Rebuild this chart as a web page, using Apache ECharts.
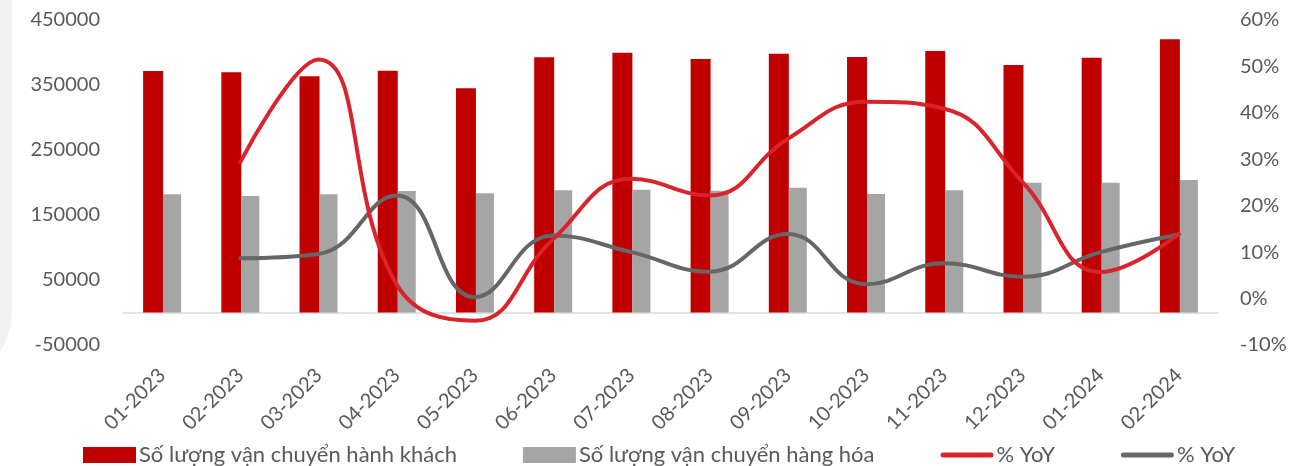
<!DOCTYPE html>
<html>
<head>
<meta charset="utf-8">
<style>
  html, body { margin: 0; padding: 0; background: #ffffff; }
  #chart { width: 1302px; height: 466px; }
</style>
<script src="https://cdn.jsdelivr.net/npm/echarts@6/dist/echarts.min.js"></script>
</head>
<body>
<div id="chart"></div>
<script>
// Monthly categories
const months = ['01-2023', '02-2023', '03-2023', '04-2023', '05-2023', '06-2023', '07-2023',
  '08-2023', '09-2023', '10-2023', '11-2023', '12-2023', '01-2024', '02-2024'];

// Passenger transport volume (left axis)
const passengers = [371500, 369500, 363400, 372000, 344900, 392600, 399700,
  390000, 398200, 393100, 402300, 380800, 392000, 420300];

// Freight transport volume (left axis)
const freight = [181800, 179200, 181800, 186900, 183400, 188000, 189000,
  187500, 192000, 182300, 188000, 199700, 199700, 203800];

// Year-over-year growth, % (right axis); January 2023 has no value
const passengersYoY = [null, 29.4, 51.5, 3.0, -4.8, 12.8, 25.8,
  22.2, 34.4, 42.4, 40.9, 25.1, 5.7, 13.9];
const freightYoY = [null, 8.7, 9.6, 22.2, 0.3, 13.6, 10.0,
  5.8, 13.9, 3.1, 7.6, 4.7, 10.0, 13.8];

// Axis ticks
const leftTicks = { min: -50000, max: 450000, interval: 100000 };
const rightTicks = { min: -10, max: 60, interval: 10 };

const FONT = 'Lato';
const TEXT = '#595959';
const RED = '#c00000';
const GREY = '#a5a5a5';
const RED_LINE = '#d9232d';
const GREY_LINE = '#666666';

// Thick line swatch with rounded ends for the legend
const LINE_ICON = 'path://M2.5,0 L50.5,0 A2.5,2.5 0 0 1 50.5,5 L2.5,5 A2.5,2.5 0 0 1 2.5,0 Z';

const chart = echarts.init(document.getElementById('chart'), null, { renderer: 'canvas' });

chart.setOption({
  animation: false,
  backgroundColor: '#ffffff',
  textStyle: { fontFamily: FONT, color: TEXT },
  graphic: [{
    type: 'rect',
    silent: true,
    z: -10,
    shape: { x: -80, y: -40, width: 92, height: 430, r: [0, 0, 80, 0] },
    style: { fill: '#f2f2f2' }
  }],
  grid: { left: 123, right: 84, top: 20, bottom: 121, containLabel: false },
  legend: {
    left: 78,
    top: 439,
    itemGap: 66,
    itemWidth: 53,
    itemHeight: 16,
    textStyle: { fontFamily: FONT, fontSize: 22, color: TEXT, padding: [0, 0, 0, -2] },
    data: [
      { name: 'Số lượng vận chuyển hành khách', icon: 'rect', itemStyle: { color: RED } },
      { name: 'Số lượng vận chuyển hàng hóa', icon: 'rect', itemStyle: { color: GREY } },
      { name: '% YoY', icon: LINE_ICON, itemStyle: { color: RED_LINE, borderWidth: 0 } },
      { name: '% YoY ', icon: LINE_ICON, itemStyle: { color: GREY_LINE, borderWidth: 0 } }
    ],
    formatter: function (n) { return n.trim(); }
  },
  xAxis: {
    type: 'category',
    data: months,
    axisLine: { onZero: true, lineStyle: { color: '#d9d9d9', width: 1.5 } },
    axisTick: { show: false },
    axisLabel: {
      rotate: 45,
      margin: 27,
      interval: 0,
      fontFamily: FONT,
      fontSize: 20,
      color: TEXT
    }
  },
  yAxis: [
    {
      type: 'value',
      min: leftTicks.min,
      max: leftTicks.max,
      interval: leftTicks.interval,
      axisLine: { show: false },
      axisTick: { show: false },
      splitLine: { show: false },
      axisLabel: {
        margin: 23, fontFamily: FONT, fontSize: 20, color: TEXT,
        formatter: function (v) { return String(v); }
      }
    },
    {
      type: 'value',
      min: rightTicks.min,
      max: rightTicks.max,
      interval: rightTicks.interval,
      position: 'right',
      axisLine: { show: false },
      axisTick: { show: false },
      splitLine: { show: false },
      axisLabel: { margin: 22, fontFamily: FONT, fontSize: 20, color: TEXT, formatter: '{value}%' }
    }
  ],
  series: [
    {
      name: 'Số lượng vận chuyển hành khách',
      type: 'bar',
      data: passengers,
      barWidth: 20,
      barGap: '0%',
      itemStyle: { color: RED }
    },
    {
      name: 'Số lượng vận chuyển hàng hóa',
      type: 'bar',
      data: freight,
      barWidth: 18,
      barGap: '0%',
      itemStyle: { color: GREY }
    },
    {
      name: '% YoY',
      type: 'line',
      yAxisIndex: 1,
      data: passengersYoY,
      smooth: 0.45,
      symbol: 'none',
      lineStyle: { color: RED_LINE, width: 4, cap: 'round' },
      itemStyle: { color: RED_LINE },
      z: 5
    },
    {
      name: '% YoY ',
      type: 'line',
      yAxisIndex: 1,
      data: freightYoY,
      smooth: 0.45,
      symbol: 'none',
      lineStyle: { color: GREY_LINE, width: 4, cap: 'round' },
      itemStyle: { color: GREY_LINE },
      z: 4
    }
  ]
});
</script>
</body>
</html>
